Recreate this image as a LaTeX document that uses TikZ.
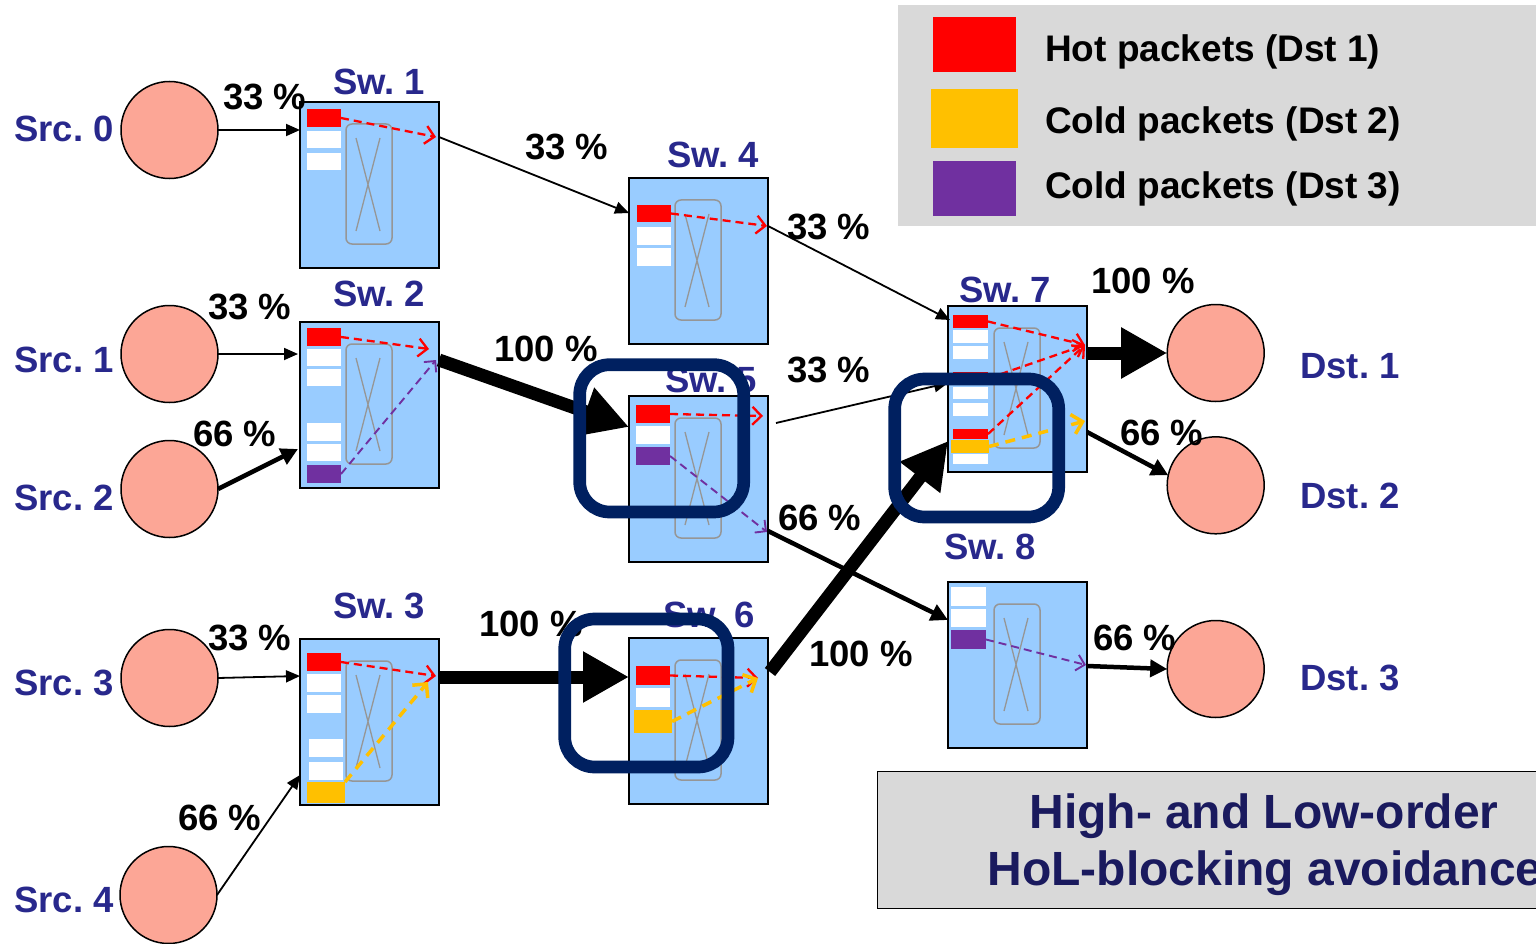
\documentclass[tikz,border=0pt]{standalone}
\usepackage{fontspec}
\setmainfont{Liberation Sans}
\usetikzlibrary{arrows.meta,calc}
\frenchspacing

\definecolor{swblue}{RGB}{153,204,255}
\definecolor{salmon}{RGB}{252,166,150}
\definecolor{hotred}{RGB}{255,0,0}
\definecolor{coldorange}{RGB}{255,192,0}
\definecolor{coldpurple}{RGB}{112,48,160}
\definecolor{labelblue}{RGB}{40,40,140}
\definecolor{hlnavy}{RGB}{0,32,96}
\definecolor{panelgray}{RGB}{217,217,217}
\definecolor{titlenavy}{RGB}{26,26,94}
\definecolor{xbargray}{RGB}{150,150,150}

% crossbar drawn inside a switch box
\newcommand\swcrossbar[1]{%
  \draw[xbarframe] ($(#1.north west)+(46,22)$) rectangle ++(46,120);
  \draw[xbarwire] ($(#1.north west)+(56,36)$) -- ++(24,93)
                  ($(#1.north west)+(80,36)$) -- ++(-24,93);}
% queue slot: name, colour, left, top, width, height
\newcommand\slotat[6]{%
  \node[slot, fill=#2, minimum width=#5pt, minimum height=#6pt] (#1) at (#3,#4) {};}

\begin{document}
\begin{tikzpicture}[x=1pt,y=-1pt,
  swbox/.style={draw=black, line width=1.5pt, fill=swblue, minimum width=139pt,
    minimum height=166pt, inner sep=0pt, outer sep=0pt, anchor=north west},
  endpoint/.style={circle, draw=black, line width=1.5pt, fill=salmon,
    minimum size=97pt, inner sep=0pt, outer sep=0pt},
  slot/.style={rectangle, draw=none, inner sep=0pt, outer sep=0pt, anchor=north west},
  xbarframe/.style={draw=xbargray, line width=1.5pt, rounded corners=6pt},
  xbarwire/.style={draw=xbargray, line width=1.3pt},
  lbl/.style={font=\fontsize{36.5}{42}\selectfont\bfseries, text=labelblue,
    inner sep=0pt, anchor=base west},
  pct/.style={font=\fontsize{36.5}{42}\selectfont\bfseries, text=black,
    inner sep=0pt, anchor=base west},
  legtext/.style={font=\fontsize{37}{42}\selectfont\bfseries, text=black,
    inner sep=0pt, anchor=base west},
  titletext/.style={font=\fontsize{48}{56}\selectfont\bfseries, text=titlenavy,
    inner sep=0pt, anchor=base},
  legsq/.style={rectangle, inner sep=0pt, outer sep=0pt, anchor=north west},
  thinlink/.style={draw=black, line width=1.8pt, -{Triangle[length=14pt,width=12pt]}},
  midlink/.style={draw=black, line width=4.5pt, -{Triangle[length=17pt,width=17pt]}},
  heavylink/.style={draw=black, line width=13pt, -{Triangle[length=46pt,width=48pt]}},
  hotflow/.style={draw=hotred, line width=2.3pt, dash pattern=on 8pt off 5pt,
    -{Straight Barb[length=9pt,width=18pt]}},
  orangeflow/.style={draw=coldorange, line width=3.5pt, dash pattern=on 10pt off 7pt,
    -{Straight Barb[length=10pt,width=20pt]}},
  purpleflow/.style={draw=coldpurple, line width=1.9pt, dash pattern=on 8pt off 5pt,
    -{Straight Barb[length=8pt,width=16pt]}},
  highlight/.style={draw=hlnavy, line width=12.7pt, rounded corners=30pt}]

\useasboundingbox (0,0) rectangle (1536,944);
\clip (0,0) rectangle (1536,944);

% ---------- legend ----------
\node[fill=panelgray, draw=none, inner sep=0pt, anchor=north west,
      minimum width=660pt, minimum height=221pt] (legend) at (898,5) {};
\node[legsq, fill=hotred, minimum width=83pt, minimum height=55pt] (leghot) at (933,17) {};
\node[legsq, fill=coldorange, minimum width=87pt, minimum height=59pt] (legcold2) at (931,89) {};
\node[legsq, fill=coldpurple, minimum width=83pt, minimum height=55pt] (legcold3) at (933,161) {};
\node[legtext] (leghott) at (1045,62) {Hot packets (Dst 1)};
\node[legtext] (legcold2t) at (1045,134) {Cold packets (Dst 2)};
\node[legtext] (legcold3t) at (1045,199) {Cold packets (Dst 3)};

% ---------- title panel ----------
\node[fill=panelgray, draw=black, line width=1.3pt, inner sep=0pt, anchor=north west,
      minimum width=700pt, minimum height=137pt] (panel) at (877,771) {};
\node[titletext] (title1) at (1264,828) {High- and Low-order};
\node[titletext] (title2) at (1265,885) {HoL-blocking avoidance};

% ---------- sources and destinations ----------
\node[endpoint] (src0) at (169.5,130) {};
\node[endpoint] (src1) at (169.5,354) {};
\node[endpoint] (src2) at (169.5,489) {};
\node[endpoint] (src3) at (169.5,678) {};
\node[endpoint] (src4) at (168.5,895) {};
\node[endpoint] (dst1) at (1215.7,353) {};
\node[endpoint] (dst2) at (1215.7,485.3) {};
\node[endpoint] (dst3) at (1215.7,669) {};

\node[lbl] (src0t) at (14,142) {Src. 0};
\node[lbl] (src1t) at (14,372) {Src. 1};
\node[lbl] (src2t) at (14,510) {Src. 2};
\node[lbl] (src3t) at (14,695) {Src. 3};
\node[lbl] (src4t) at (14,912) {Src. 4};
\node[lbl] (dst1t) at (1300,378) {Dst. 1};
\node[lbl] (dst2t) at (1300,508) {Dst. 2};
\node[lbl] (dst3t) at (1300,690) {Dst. 3};

% ---------- switches ----------
\node[swbox] (sw1) at (300,102) {};
\node[swbox] (sw2) at (300,322) {};
\node[swbox] (sw3) at (300,639) {};
\node[swbox] (sw4) at (629,178) {};
\node[swbox] (sw5) at (629,396) {};
\node[swbox] (sw6) at (629,638) {};
\node[swbox] (sw7) at (948,306) {};
\node[swbox] (sw8) at (948,582) {};
\foreach \s in {sw1,sw2,sw3,sw4,sw5,sw6,sw7,sw8} {\swcrossbar{\s}}

\node[lbl] (sw1t) at (333,95) {Sw. 1};
\node[lbl] (sw2t) at (333,306) {Sw. 2};
\node[lbl] (sw3t) at (333,618) {Sw. 3};
\node[lbl] (sw4t) at (667,168) {Sw. 4};
\node[lbl] (sw5t) at (665,392) {Sw. 5};
\node[lbl] (sw6t) at (663,627) {Sw. 6};
\node[lbl] (sw7t) at (959,302) {Sw. 7};
\node[lbl] (sw8t) at (944,559) {Sw. 8};

% ---------- queue slots ----------
\slotat{s1r}{hotred}{307}{109}{34}{18}
\slotat{s1w1}{white}{307}{131}{34}{17}
\slotat{s1w2}{white}{307}{153}{34}{17}

\slotat{s2r}{hotred}{307}{328}{34}{18}
\slotat{s2w1}{white}{307}{349}{34}{17}
\slotat{s2w2}{white}{307}{369}{34}{17}
\slotat{s2w3}{white}{307}{423}{34}{18}
\slotat{s2w4}{white}{307}{444}{34}{17}
\slotat{s2p}{coldpurple}{307}{465}{34}{18}

\slotat{s3r}{hotred}{307}{653}{34}{18}
\slotat{s3w1}{white}{307}{674}{34}{18}
\slotat{s3w2}{white}{307}{695}{34}{18}
\slotat{s3w3}{white}{309}{739}{34}{18}
\slotat{s3w4}{white}{309}{762}{34}{18}
\slotat{s3o}{coldorange}{307}{782}{38}{21}

\slotat{s4r}{hotred}{637}{205}{34}{17}
\slotat{s4w1}{white}{637}{227}{34}{18}
\slotat{s4w2}{white}{637}{248}{34}{18}

\slotat{s5r}{hotred}{636}{405}{34}{18}
\slotat{s5w1}{white}{636}{426}{34}{18}
\slotat{s5p}{coldpurple}{636}{447}{34}{18}

\slotat{s6r}{hotred}{636}{666}{34}{19}
\slotat{s6w1}{white}{636}{688}{34}{19}
\slotat{s6o}{coldorange}{634}{710}{38}{23}

\slotat{s7r1}{hotred}{953}{315}{35}{13}
\slotat{s7w1}{white}{953}{330}{35}{13}
\slotat{s7w2}{white}{953}{346}{35}{13}
\slotat{s7r2}{hotred}{953}{372}{35}{13}
\slotat{s7w3}{white}{953}{387}{35}{12}
\slotat{s7w4}{white}{953}{403}{35}{13}
\slotat{s7r3}{hotred}{953}{429}{35}{10}
\slotat{s7o}{coldorange}{951}{440}{38}{13}
\slotat{s7w5}{white}{953}{454}{35}{10}

\slotat{s8w1}{white}{951}{587}{35}{19}
\slotat{s8w2}{white}{951}{609}{35}{18}
\slotat{s8p}{coldpurple}{951}{630}{35}{19}

% ---------- flows through the crossbars ----------
\draw[hotflow] (s1r.east) -- ($(sw1.north east)+(-3,35)$);
\draw[hotflow] (s2r.east) -- ($(sw2.north east)+(-10,27)$);
\draw[purpleflow] (s2p.east) -- ($(sw2.north east)+(-3,38)$);
\draw[hotflow] (s3r.east) -- ($(sw3.north east)+(-3,37)$);
\draw[orangeflow] (s3o.north east) -- ($(sw3.north east)+(-11,43)$);
\draw[hotflow] (s4r.east) -- ($(sw4.north east)+(-1,48)$);
\draw[hotflow] (s5r.east) -- ($(sw5.north east)+(-5,20)$);
\draw[purpleflow] (s5p.east) -- ($(sw5.north east)+(-1,136)$);
\draw[hotflow] (s6r.east) -- ($(sw6.north east)+(-10,40)$);
\draw[orangeflow] (s6o.east) -- ($(sw6.north east)+(-10,40)$);
\draw[hotflow] (s7r1.east) -- ($(sw7.north east)+(-2,39)$);
\draw[hotflow] (s7r2.east) -- ($(sw7.north east)+(-2,39)$);
\draw[hotflow] (s7r3.east) -- ($(sw7.north east)+(-2,39)$);
\draw[orangeflow] (s7o.east) -- ($(sw7.north east)+(-2,115)$);
\draw[purpleflow] (s8p.east) -- ($(sw8.north east)+(-1,83)$);

% ---------- links ----------
\draw[thinlink] (src0.east) -- (src0.east -| sw1.west);
\draw[thinlink] (src1.east) -- ($(src1.east -| sw2.west)+(-2,0)$);
\draw[midlink] (src2.east) -- ($(sw2.north west)+(-2,127)$);
\draw[thinlink] (src3.east) -- ($(sw3.north west)+(0,37)$);
\draw[thinlink] (src4.east) -- ($(sw3.north west)+(0,136)$);

\draw[thinlink] ($(sw1.north east)+(0,35)$) -- ($(sw4.north west)+(0,35)$);
\draw[thinlink] ($(sw4.north east)+(0,48)$) -- ($(sw7.north west)+(2,14)$);
\draw[heavylink] ($(sw2.north east)+(0,38)$) -- ($(sw5.north west)+(0,31)$);
\draw[thinlink] ($(sw5.north east)+(8,27)$) -- ($(sw7.north west)+(0,77)$);
\draw[midlink] ($(sw5.north east)+(0,135)$) -- ($(sw8.north west)+(0,38)$);
\draw[heavylink] ($(sw3.north east)+(0,38)$) -- ($(sw6.north west)+(0,39)$);
\draw[heavylink] ($(sw6.north east)+(2,34)$) -- ($(sw7.north west)+(0,135)$);
\draw[heavylink] ($(sw7.north east)+(1,47)$) -- (dst1.west);
\draw[midlink] ($(sw7.north east)+(0,126)$) -- (dst2.168);
\draw[midlink] ($(sw8.north east)+(0,84)$) -- (dst3.west);

% ---------- load labels ----------
\node[pct] (p0) at (223,110) {33 \%};
\node[pct] (p1) at (208,319) {33 \%};
\node[pct] (p2) at (193,446) {66 \%};
\node[pct] (p3) at (208,650) {33 \%};
\node[pct] (p4) at (178,830) {66 \%};
\node[pct] (p14) at (525,160) {33 \%};
\node[pct] (p47) at (787,240) {33 \%};
\node[pct] (p25) at (494,361) {100 \%};
\node[pct] (p57) at (787,382) {33 \%};
\node[pct] (p58) at (778,530) {66 \%};
\node[pct] (p36) at (479,636) {100 \%};
\node[pct] (p67) at (809,666) {100 \%};
\node[pct] (p71) at (1091,293) {100 \%};
\node[pct] (p72) at (1120,445) {66 \%};
\node[pct] (p83) at (1093,650) {66 \%};

% ---------- blocking-avoidance highlights ----------
\draw[highlight] (579.7,364.7) rectangle (743.7,512);
\draw[highlight] (894.7,379) rectangle (1058.7,517);
\draw[highlight] (564.7,619) rectangle (728,767);

\end{tikzpicture}
\end{document}
